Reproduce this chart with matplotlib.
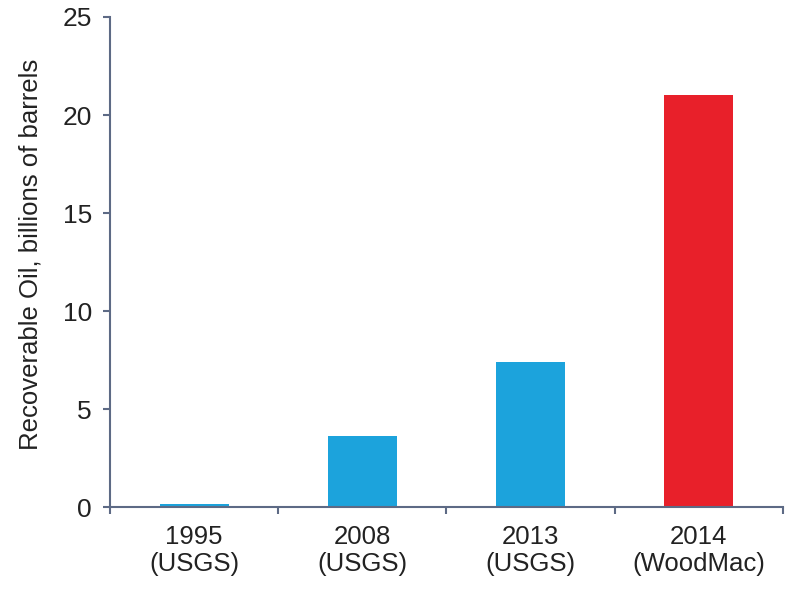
import numpy as np
import matplotlib.pyplot as plt
from matplotlib.ticker import FixedLocator

categories = ["1995\n(USGS)", "2008\n(USGS)", "2013\n(USGS)", "2014\n(WoodMac)"]
values = [0.15, 3.65, 7.4, 21.0]
colors = ["#1ca3dc", "#1ca3dc", "#1ca3dc", "#e8202a"]
yticks = [0, 5, 10, 15, 20, 25]

plt.rcParams['font.family'] = ['Liberation Sans', 'DejaVu Sans']
axis_col = "#5d6a85"

fig = plt.figure(figsize=(8, 5.96), dpi=100)
ax = fig.add_axes([0.1375, 0.149, 0.841, 0.8225])

x = np.arange(len(categories))
ax.bar(x, values, width=0.41, color=colors, zorder=1)

ax.set_xlim(-0.5, len(categories) - 0.5)
ax.set_ylim(0, 25)
ax.set_yticks(yticks)
ax.set_xticks(x)
ax.set_xticklabels(categories, fontsize=18.5, color="#222222", linespacing=1.15)
ax.xaxis.set_minor_locator(FixedLocator(np.arange(-0.5, len(categories), 1.0)))
ax.tick_params(axis="x", which="major", length=0, pad=13)
ax.tick_params(axis="x", which="minor", length=5, width=1.5, color=axis_col, direction="out")
ax.tick_params(axis="y", length=5, width=1.5, color=axis_col, labelsize=19, labelcolor="#222222", pad=8)

for s in ["top", "right"]:
    ax.spines[s].set_visible(False)
for s in ["left", "bottom"]:
    ax.spines[s].set_color(axis_col)
    ax.spines[s].set_linewidth(1.5)
    ax.spines[s].set_zorder(3)

ax.set_ylabel("Recoverable Oil, billions of barrels", fontsize=18.5, color="#222222")
ax.yaxis.set_label_coords(-0.1, 0.515)

fig.savefig("out.png", dpi=100)
